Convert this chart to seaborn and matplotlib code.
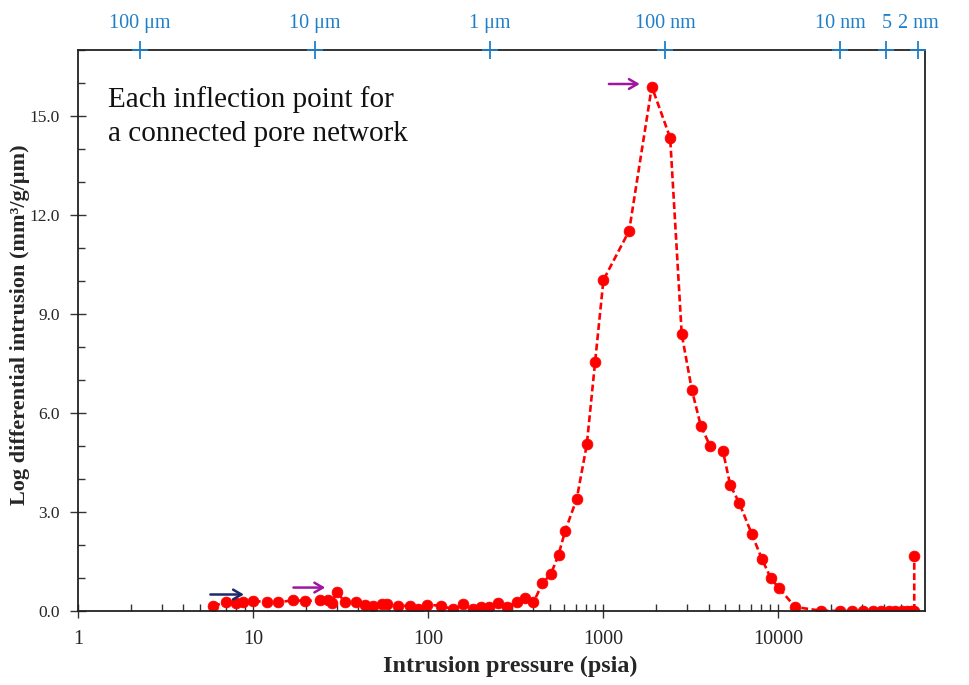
import numpy as np
import pandas as pd
import matplotlib
matplotlib.use("Agg")
import matplotlib.pyplot as plt
from matplotlib.ticker import LogLocator, FixedLocator, MultipleLocator, FormatStrFormatter, NullFormatter
import seaborn as sns

# Mercury intrusion: pressure (psia) vs log differential intrusion (mm3/g/um)
pressure_psia = [
    5.93, 6.98, 7.96, 8.81, 10.0, 11.97, 13.95, 17.0, 19.8, 24.1,
    26.9, 28.2, 30.1, 33.6, 38.6, 43.6, 48.7, 54.3, 58.0, 67.6,
    78.9, 88.1, 99.1, 118, 139.5, 159, 180, 200, 224, 252,
    282, 321, 358, 400, 450, 503, 556, 607, 707, 807,
    900, 1004, 1408, 1897, 2415, 2812, 3213, 3615, 4085, 4830,
    5320, 6010, 7070, 8070, 9080, 10130, 12500, 17540, 22600, 26400,
    30500, 34600, 38600, 42700, 46600, 50900, 54400, 57300, 59900, 59900,
]
log_diff_intrusion = [
    0.15, 0.27, 0.25, 0.27, 0.30, 0.28, 0.26, 0.33, 0.30, 0.33,
    0.33, 0.25, 0.58, 0.26, 0.28, 0.18, 0.15, 0.22, 0.20, 0.15,
    0.16, 0.06, 0.19, 0.16, 0.05, 0.20, 0.07, 0.11, 0.12, 0.25,
    0.13, 0.28, 0.38, 0.26, 0.84, 1.12, 1.70, 2.43, 3.40, 5.05,
    7.55, 10.03, 11.52, 15.89, 14.34, 8.39, 6.70, 5.61, 5.00, 4.86,
    3.82, 3.26, 2.33, 1.58, 0.99, 0.69, 0.12, 0.01, 0.0, 0.0,
    0.0, 0.0, 0.0, 0.0, 0.0, 0.0, 0.0, 0.0, 0.0, 1.67,
]

# Secondary (pore diameter) axis: tick positions on the pressure scale
pore_tick_pressure = [2.26, 22.6, 226, 2260, 22600, 41500, 63000]
pore_tick_labels = ["100 \u03bcm", "10 \u03bcm", "1 \u03bcm", "100 nm", "10 nm", "5", "2 nm"]

x_ticks = [1, 10, 100, 1000, 10000]
y_ticks = [0.0, 3.0, 6.0, 9.0, 12.0, 15.0]

df = pd.DataFrame({"pressure": pressure_psia, "intrusion": log_diff_intrusion})

sns.set_style("ticks")
plt.rcParams["font.family"] = ["Liberation Serif", "DejaVu Serif"]

fig = plt.figure(figsize=(9.69, 6.85), dpi=100)
ax = fig.add_axes([78 / 969, 1 - 611 / 685, (925 - 78) / 969, (611 - 50) / 685])

sns.lineplot(data=df, x="pressure", y="intrusion", ax=ax, sort=False, estimator=None,
             color="#ff0000", linewidth=1.9, linestyle="--", marker="o",
             markersize=7.8, markeredgecolor="#ff0000", markeredgewidth=0.5)
for ln in ax.get_lines():
    ln.set_dashes([2.6, 1.3])

ax.set_xscale("log")
ax.set_xlim(1, 69000)
ax.set_ylim(0, 17)

ax.xaxis.set_major_locator(FixedLocator(x_ticks))
ax.set_xticklabels([str(t) for t in x_ticks])
ax.xaxis.set_minor_locator(LogLocator(base=10, subs=np.arange(2, 10)))
ax.xaxis.set_minor_formatter(NullFormatter())
ax.yaxis.set_major_locator(FixedLocator(y_ticks))
ax.yaxis.set_major_formatter(FormatStrFormatter("%.1f"))
ax.yaxis.set_minor_locator(MultipleLocator(1.0))

ax.tick_params(axis="both", which="major", direction="inout", width=1.0,
               color="#333333", labelcolor="#262626")
ax.tick_params(axis="both", which="minor", direction="in", length=5, width=1.0, color="#333333")
ax.tick_params(axis="x", which="major", length=10, labelsize=14.5, pad=9)
ax.tick_params(axis="y", which="major", length=12, labelsize=12.5, pad=7)

for sp in ax.spines.values():
    sp.set_visible(True)
    sp.set_color("#222222")
    sp.set_linewidth(1.3)

ax.set_xlabel("Intrusion pressure (psia)", fontsize=17.4, fontweight="bold")
ax.xaxis.set_label_coords((510 - 78) / 847, -(656 - 611) / 561)
ax.set_ylabel("Log differential intrusion (mm\u00b3/g/\u03bcm)", fontsize=16,
              fontweight="bold")
ax.yaxis.set_label_coords(-(78 - 30) / 847, 0.51)

# Pore diameter scale along the top
ax_top = ax.twiny()
ax_top.set_xscale("log")
ax_top.set_xlim(ax.get_xlim())
ax_top.xaxis.set_major_locator(FixedLocator(pore_tick_pressure))
ax_top.set_xticklabels(pore_tick_labels)
ax_top.xaxis.set_minor_locator(FixedLocator([]))
ax_top.tick_params(axis="x", which="major", direction="inout", length=13, width=1.3,
                   color="#1f7fc8", labelcolor="#1f7fc8", labelsize=14.5, pad=6)
ax_top.plot(pore_tick_pressure, [17] * len(pore_tick_pressure), linestyle="none",
            marker="_", markersize=12, markeredgewidth=1.3, color="#1f7fc8", clip_on=False)
ax_top.set_ylim(0, 17)
for sp in ax_top.spines.values():
    sp.set_visible(False)

# Arrows marking the inflection points
arrow_kw = dict(arrowstyle="->,head_length=0.6,head_width=0.35", lw=1.8)
ax.annotate("", xy=(9.2, 0.50), xytext=(5.5, 0.50),
            arrowprops=dict(color="#1f2a6b", **arrow_kw))
ax.annotate("", xy=(26.8, 0.71), xytext=(16.4, 0.71),
            arrowprops=dict(color="#a0179f", **arrow_kw))
ax.annotate("", xy=(1680, 15.97), xytext=(1040, 15.97),
            arrowprops=dict(color="#a0179f", **arrow_kw))

ax.text(0.036, 0.935, "Each inflection point for\na connected pore network",
        transform=ax.transAxes, fontsize=21, color="#111111", va="top", ha="left",
        linespacing=1.36)

fig.savefig("out.png", dpi=100)
